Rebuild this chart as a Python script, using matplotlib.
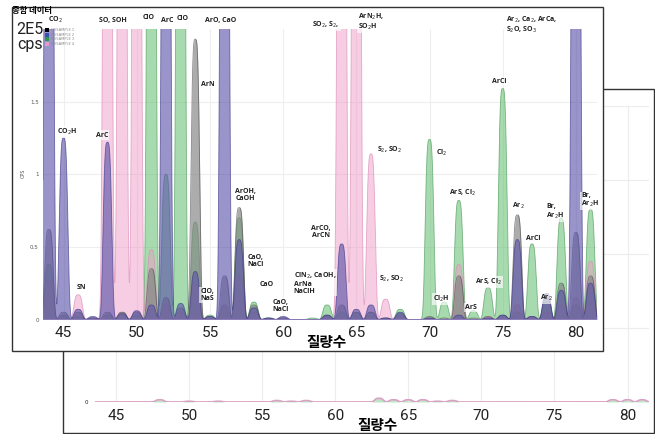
import numpy as np
import matplotlib
matplotlib.use("Agg")
import matplotlib.pyplot as plt
from matplotlib.patches import Rectangle

# ---------------- data ----------------
masses = list(range(44, 82))
# peak heights (x 2E5 cps); values > 2 are off-scale (clipped at top)
sample_black = [0.62, 0.05, 0.05, 0.01, 0.05, 0.05, 0.05, 0.35, 0.15, 0.08, 1.93, 0.02, 0.30, 0.77,
                0.10, 0.01, 0.01, 0.00, 0.00, 0.03, 0.10, 0.05, 0.05, 0.01, 0.04, 0.00, 0.02, 0.01,
                0.30, 0.01, 0.02, 0.03, 0.72, 0.02, 0.15, 0.25, 0.60, 0.30]
sample_blue = [6.0, 1.25, 0.07, 0.02, 1.22, 0.04, 0.06, 0.10, 6.0, 0.11, 0.33, 0.02, 6.0, 0.55,
               0.08, 0.01, 0.02, 0.00, 0.00, 0.03, 0.52, 0.07, 0.10, 0.01, 0.05, 0.00, 0.01, 0.00,
               0.03, 0.00, 0.01, 0.03, 0.55, 0.02, 0.18, 0.20, 6.0, 0.25]
sample_green = [0.38, 0.03, 0.02, 0.01, 0.03, 0.05, 0.03, 6.0, 1.00, 6.0, 0.67, 0.03, 0.10, 0.70,
                0.12, 0.01, 0.01, 0.00, 0.01, 0.10, 0.05, 0.05, 0.05, 0.01, 0.07, 0.00, 1.24, 0.12,
                0.82, 0.06, 0.22, 1.59, 0.05, 0.52, 0.14, 0.70, 0.10, 0.76]
sample_pink = [0.27, 0.02, 0.17, 0.01, 6.0, 6.0, 6.0, 0.48, 0.10, 0.05, 0.25, 0.01, 0.10, 0.30,
               0.05, 0.00, 0.01, 0.00, 0.00, 0.02, 6.0, 6.0, 1.14, 0.14, 0.03, 0.00, 0.01, 0.00,
               0.38, 0.00, 0.02, 0.02, 0.10, 0.02, 0.05, 0.10, 0.15, 0.40]
# back panel (nearly flat trace)
back_trace = [0.00, 0.00, 0.00, 0.00, 0.03, 0.00, 0.01, 0.00, 0.01, 0.00, 0.00, 0.00, 0.02, 0.01,
              0.02, 0.00, 0.00, 0.00, 0.00, 0.05, 0.03, 0.03, 0.03, 0.01, 0.02, 0.00, 0.00, 0.00,
              0.00, 0.00, 0.00, 0.00, 0.00, 0.00, 0.00, 0.03, 0.03, 0.03]
series_names = ["(B)SAMPLE 1", "(B)SAMPLE 2", "(B)SAMPLE 3", "(B)SAMPLE 4"]
x_ticks = [45, 50, 55, 60, 65, 70, 75, 80]

labels = [
    ("CO$_2$", 44.42, 2.06, "center"), ("SO, SOH", 48.39, 2.06, "center"),
    ("ClO", 50.79, 2.08, "center"), ("ArC", 52.09, 2.06, "center"),
    ("ClO", 53.12, 2.07, "center"), ("ArO, CaO", 55.72, 2.06, "center"),
    ("SO$_2$, S$_2$,", 62.91, 2.03, "center"), ("ArN$_2$H,\nSO$_2$H", 65.10, 2.05, "left"),
    ("Ar$_2$, Ca$_2$, ArCa,\nS$_2$O, SO$_3$", 75.24, 2.03, "left"),
    ("ArN", 54.83, 1.62, "center"), ("CO$_2$H", 45.24, 1.29, "center"),
    ("ArC", 47.64, 1.27, "center"), ("SN", 46.20, 0.22, "center"),
    ("ClO,\nNaS", 54.35, 0.17, "left"), ("ArOH,\nCaOH", 57.43, 0.86, "center"),
    ("CaO,\nNaCl", 58.12, 0.40, "center"), ("CaO", 58.87, 0.24, "center"),
    ("CaO,\nNaCl", 59.83, 0.09, "center"), ("ClN$_2$, CaOH,\nArNa\nNaClH", 60.72, 0.25, "left"),
    ("ArCO,\nArCN", 62.57, 0.60, "center"), ("S$_2$, SO$_2$", 66.40, 1.17, "left"),
    ("S$_2$, SO$_2$", 66.54, 0.28, "left"), ("Cl$_2$", 70.45, 1.15, "left"),
    ("ArS, Cl$_2$", 72.23, 0.87, "center"), ("Cl$_2$H", 70.79, 0.14, "center"),
    ("ArS", 72.84, 0.08, "center"), ("ArS, Cl$_2$", 74.01, 0.26, "center"),
    ("ArCl", 74.76, 1.64, "center"), ("Ar$_2$", 76.06, 0.78, "center"),
    ("ArCl", 77.09, 0.56, "center"), ("Ar$_2$", 77.98, 0.15, "center"),
    ("Br,\nAr$_2$H", 77.98, 0.74, "left"), ("Br,\nAr$_2$H", 80.38, 0.82, "left"),
]

# ---------------- layout helpers ----------------
W, H = 655, 434
fig = plt.figure(figsize=(W / 100, H / 100), dpi=100)
def fx(px): return px / W
def fy(py): return 1 - py / H

XL = (43.596, 81.44)
xs = np.linspace(XL[0], XL[1], 5000)

def profile(heights, s=0.34, p=3.5):
    y = np.zeros_like(xs)
    for m, h in zip(masses, heights):
        if h > 0:
            y += h * np.exp(-np.abs((xs - m) / s) ** p)
    return y

# ---------------- back panel ----------------
back_rect = Rectangle((fx(63), fy(433)), (654 - 63) / W, (433 - 89) / H, transform=fig.transFigure,
                      facecolor="white", edgecolor="#333333", lw=1.0, zorder=0)
fig.patches.append(back_rect)
axb = fig.add_axes([fx(95.4), fy(402), (648.6 - 95.4) / W, (402 - 106) / H], zorder=1)
axb.set_facecolor("none")
axb.set_xlim(XL)
axb.set_ylim(0, 4.0)
axb.set_xticks(x_ticks)
axb.set_yticks([0, 1, 2, 3, 4])
axb.set_yticklabels(["0", "", "", "", ""])
axb.grid(True, color="#ececec", lw=0.8)
for sp in axb.spines.values():
    sp.set_visible(False)
axb.tick_params(length=0, pad=5, labelsize=11, labelcolor="#222222")
for t in axb.get_xticklabels():
    t.set_fontfamily("Roboto")
for t in axb.get_yticklabels():
    t.set_fontsize(4)
yb = profile(back_trace)
axb.fill_between(xs, 0, yb, color="#8fd49a", alpha=0.6, lw=0)
axb.plot(xs, yb, color="#d9a0c4", lw=1.2)

# ---------------- front panel ----------------
front_rect = Rectangle((fx(12), fy(351)), (603 - 12) / W, (351 - 7) / H, transform=fig.transFigure,
                       facecolor="white", edgecolor="#333333", lw=1.0, zorder=2)
fig.patches.append(front_rect)
ax = fig.add_axes([fx(43), fy(319.5), (597 - 43) / W, (319.5 - 29) / H], zorder=3)
ax.set_facecolor("none")
ax.set_xlim(XL)
ax.set_ylim(0, 2.0)
ax.set_xticks(x_ticks)
ax.set_yticks([0, 0.5, 1, 1.5])
ax.set_yticklabels(["0", "0.5", "1", "1.5"])
ax.grid(True, color="#eeeeee", lw=0.8, zorder=0)
ax.set_axisbelow(True)
for sp in ax.spines.values():
    sp.set_visible(False)
ax.tick_params(axis="x", length=0, pad=5, labelsize=11, labelcolor="#222222")
ax.tick_params(axis="y", length=0, pad=3, labelsize=4, labelcolor="#555555")
for t in ax.get_xticklabels():
    t.set_fontfamily("Roboto")

styles = [
    (sample_green, "#6cc47a", 0.6, "#4f9a5a"),
    (sample_pink, "#ee9cc8", 0.5, "#d98bb6"),
    (sample_black, "#808080", 0.65, "#555555"),
    (sample_blue, "#5a52a8", 0.62, "#403a8a"),
]
for vals, c, a, ec in styles:
    y = profile(vals)
    ax.fill_between(xs, 0, y, color=c, alpha=a, lw=0, zorder=2)
    ax.plot(xs, y, color=ec, lw=0.6, alpha=0.7, zorder=2)
ax.axhline(0, color="#8f7fbf", lw=2.0, zorder=3)

for txt, xm, yv, ha in labels:
    ax.text(xm, yv, txt, ha=ha, va="center", fontsize=5.0, fontweight="bold", family="Open Sans",
            color="#222222", clip_on=False, zorder=5, linespacing=1.0,
            bbox=dict(boxstyle="square,pad=0.15", fc="white", ec="none", alpha=0.65))

# legend (manual)
leg_colors = ["#000000", "#3b4fb0", "#2a9a4a", "#e39ac8"]
for i, (c, name) in enumerate(zip(leg_colors, series_names)):
    yy = 30 + i * 4.7
    fig.patches.append(Rectangle((fx(45), fy(yy + 2)), 4 / W, 4 / H, transform=fig.transFigure,
                                 facecolor=c, edgecolor="none", zorder=6))
    fig.text(fx(51), fy(yy), name, fontsize=2.6, color="#888888", va="center", ha="left", zorder=6)

# texts
fig.text(fx(12), fy(10), "종합 데이터", fontsize=6, fontweight="bold",
         family=["Noto Sans CJK KR", "DejaVu Sans"], va="center", ha="left", zorder=6)
fig.text(fx(30), fy(30), "2E5", fontsize=11.5, family="Roboto", va="center", ha="center",
         color="#222222", zorder=6)
fig.text(fx(30), fy(44), "cps", fontsize=11.5, family="Roboto", va="center", ha="center",
         color="#222222", zorder=6)
fig.text(fx(23), fy(173), "CPS", fontsize=3.5, rotation=90, color="#555555", va="center",
         ha="center", zorder=6)
fig.text(fx(326), fy(342), "질량수", fontsize=10.5, fontweight="bold",
         family=["Noto Sans CJK KR", "DejaVu Sans"], va="center", ha="center", zorder=6)
fig.text(fx(377), fy(425), "질량수", fontsize=10.5, fontweight="bold",
         family=["Noto Sans CJK KR", "DejaVu Sans"], va="center", ha="center", zorder=1.5)

fig.savefig("out.png", dpi=100)
